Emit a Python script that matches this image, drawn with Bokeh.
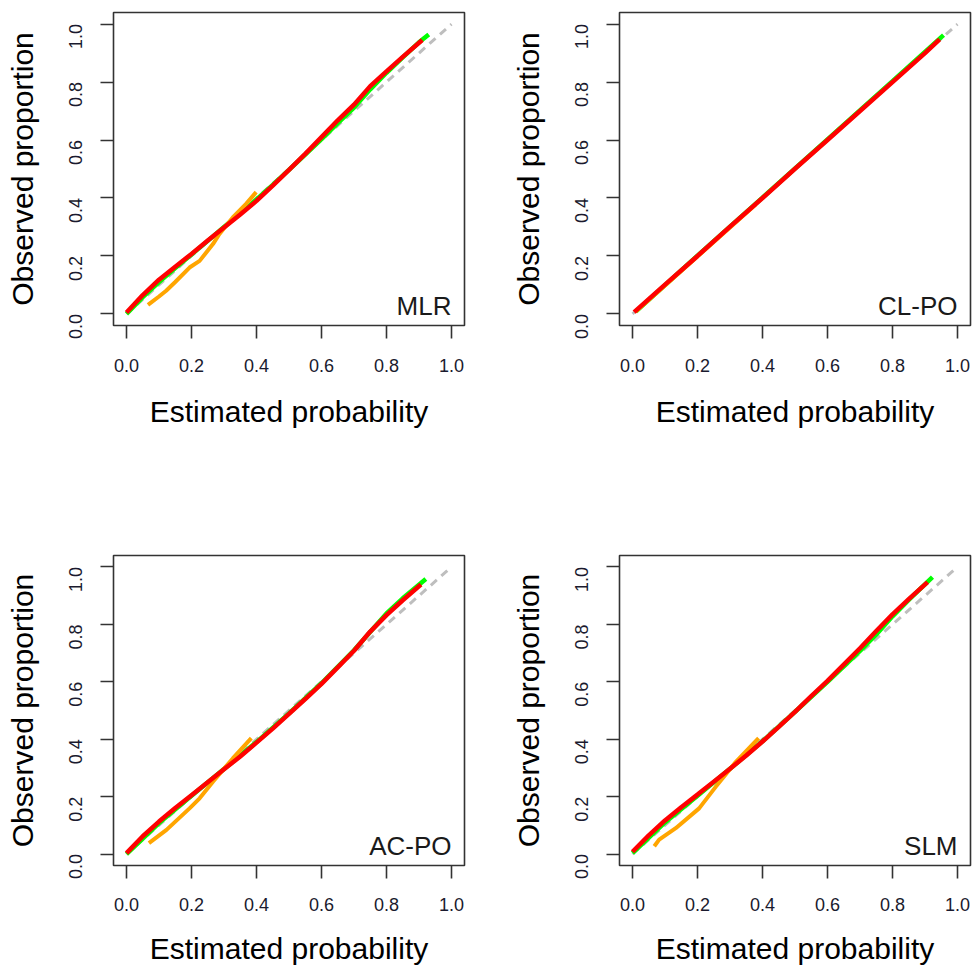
import math
from bokeh.plotting import figure
from bokeh.layouts import gridplot
from bokeh.models import Range1d, FixedTicker, Label, PrintfTickFormatter
from bokeh.embed import file_html
from bokeh.resources import INLINE

# ---------------- data ----------------
panel_names = ["MLR", "CL-PO", "AC-PO", "SLM"]
tick_values = [0.0, 0.2, 0.4, 0.6, 0.8, 1.0]
diag_x = [0.0, 1.0]
diag_y = [0.0, 1.0]
x_title = "Estimated probability"
y_title = "Observed proportion"

# MLR
mlr_green_x = [0.0, 0.05, 0.10, 0.15, 0.20, 0.25, 0.30, 0.35, 0.40, 0.45, 0.50, 0.55, 0.60, 0.65, 0.70, 0.75, 0.80, 0.85, 0.90, 0.93]
mlr_green_y = [0.0, 0.058, 0.110, 0.158, 0.205, 0.252, 0.300, 0.347, 0.395, 0.445, 0.497, 0.550, 0.603, 0.658, 0.712, 0.775, 0.832, 0.885, 0.937, 0.964]
mlr_orange_x = [0.066, 0.10, 0.122, 0.15, 0.194, 0.225, 0.266, 0.286, 0.327, 0.368, 0.399]
mlr_orange_y = [0.031, 0.060, 0.080, 0.110, 0.160, 0.183, 0.241, 0.276, 0.333, 0.380, 0.420]
mlr_red_x = [0.0, 0.05, 0.10, 0.15, 0.20, 0.25, 0.30, 0.35, 0.40, 0.45, 0.50, 0.55, 0.60, 0.65, 0.70, 0.75, 0.80, 0.85, 0.91]
mlr_red_y = [0.005, 0.065, 0.118, 0.163, 0.207, 0.253, 0.298, 0.343, 0.390, 0.443, 0.497, 0.552, 0.610, 0.668, 0.722, 0.786, 0.837, 0.887, 0.945]

# CL-PO
clpo_green_x = [0.01, 0.20, 0.40, 0.60, 0.80, 0.957]
clpo_green_y = [0.008, 0.201, 0.401, 0.602, 0.803, 0.962]
clpo_orange_x = [0.01, 0.10, 0.20, 0.30, 0.38]
clpo_orange_y = [0.008, 0.098, 0.198, 0.298, 0.378]
clpo_red_x = [0.005, 0.10, 0.20, 0.30, 0.40, 0.50, 0.60, 0.70, 0.80, 0.90, 0.945]
clpo_red_y = [0.006, 0.101, 0.200, 0.301, 0.400, 0.501, 0.600, 0.700, 0.800, 0.900, 0.947]

# AC-PO
acpo_green_x = [0.0, 0.10, 0.20, 0.30, 0.40, 0.50, 0.60, 0.70, 0.80, 0.85, 0.921]
acpo_green_y = [0.0, 0.108, 0.203, 0.296, 0.390, 0.490, 0.595, 0.710, 0.838, 0.891, 0.958]
acpo_orange_x = [0.069, 0.123, 0.194, 0.225, 0.266, 0.327, 0.384]
acpo_orange_y = [0.038, 0.084, 0.159, 0.194, 0.252, 0.333, 0.404]
acpo_red_x = [0.0, 0.05, 0.10, 0.15, 0.20, 0.25, 0.30, 0.35, 0.40, 0.45, 0.50, 0.55, 0.60, 0.65, 0.70, 0.75, 0.80, 0.85, 0.906]
acpo_red_y = [0.003, 0.062, 0.113, 0.160, 0.205, 0.250, 0.295, 0.340, 0.388, 0.437, 0.488, 0.540, 0.593, 0.650, 0.708, 0.775, 0.832, 0.884, 0.939]

# SLM
slm_green_x = [0.0, 0.10, 0.20, 0.30, 0.40, 0.50, 0.60, 0.70, 0.75, 0.80, 0.85, 0.923]
slm_green_y = [0.003, 0.110, 0.203, 0.297, 0.393, 0.495, 0.600, 0.708, 0.765, 0.828, 0.885, 0.965]
slm_orange_x = [0.067, 0.082, 0.133, 0.205, 0.256, 0.318, 0.388]
slm_orange_y = [0.027, 0.050, 0.090, 0.159, 0.234, 0.321, 0.404]
slm_red_x = [0.0, 0.05, 0.10, 0.15, 0.20, 0.25, 0.30, 0.35, 0.40, 0.45, 0.50, 0.55, 0.60, 0.65, 0.70, 0.75, 0.80, 0.85, 0.908]
slm_red_y = [0.008, 0.065, 0.117, 0.163, 0.207, 0.252, 0.297, 0.343, 0.392, 0.443, 0.495, 0.550, 0.603, 0.660, 0.717, 0.777, 0.835, 0.888, 0.947]

panel_series = [
    (mlr_green_x, mlr_green_y, mlr_orange_x, mlr_orange_y, mlr_red_x, mlr_red_y),
    (clpo_green_x, clpo_green_y, clpo_orange_x, clpo_orange_y, clpo_red_x, clpo_red_y),
    (acpo_green_x, acpo_green_y, acpo_orange_x, acpo_orange_y, acpo_red_x, acpo_red_y),
    (slm_green_x, slm_green_y, slm_orange_x, slm_orange_y, slm_red_x, slm_red_y),
]

# ---------------- style ----------------
FONT = "Liberation Sans"
DARK = "#333333"
GREEN = "#00FF00"
ORANGE = "#FFA500"
RED = "#FF0000"
GREY = "#BEBEBE"


def make_panel(idx, width, height, bl, br, bt, bb, xs1, xs2):
    gx, gy, ox, oy, rx, ry = panel_series[idx]
    p = figure(width=width, height=height,
               x_range=Range1d(-0.04, 1.04), y_range=Range1d(-0.04, 1.04),
               output_backend="svg", toolbar_location=None,
               min_border_left=bl, min_border_right=br,
               min_border_top=bt, min_border_bottom=bb)
    p.background_fill_color = "white"
    p.border_fill_color = "white"
    p.grid.visible = False
    p.outline_line_color = DARK
    p.outline_line_width = 1.6

    for ax in (p.xaxis[0], p.yaxis[0]):
        ax.ticker = FixedTicker(ticks=tick_values)
        ax.formatter = PrintfTickFormatter(format="%.1f")
        ax.axis_line_color = None
        ax.major_tick_line_color = DARK
        ax.major_tick_line_width = 1.6
        ax.major_tick_in = 0
        ax.major_tick_out = 13
        ax.minor_tick_line_color = None
        ax.major_label_text_font = FONT
        ax.major_label_text_font_size = "18px"
        ax.major_label_text_color = "#1a1a2e"
        ax.axis_label_text_font = FONT
        ax.axis_label_text_font_style = "normal"
        ax.axis_label_text_font_size = "30px"
        ax.axis_label_text_color = "black"

    p.xaxis.axis_label = x_title
    p.xaxis.major_label_standoff = xs1
    p.xaxis.axis_label_standoff = xs2
    p.yaxis.axis_label = y_title
    p.yaxis.major_label_orientation = math.pi / 2
    p.yaxis.major_label_standoff = 25
    p.yaxis.axis_label_standoff = 21

    p.line(diag_x, diag_y, line_color=GREY, line_width=3, line_dash="8 6")
    p.line(gx, gy, line_color=GREEN, line_width=4.5)
    p.line(ox, oy, line_color=ORANGE, line_width=4)
    p.line(rx, ry, line_color=RED, line_width=4.5)

    p.add_layout(Label(x=1.0, y=0.028, text=panel_names[idx], text_align="right",
                       text_baseline="alphabetic", text_font=FONT,
                       text_font_size="26px", text_color="#1a1a1a"))
    return p


p1 = make_panel(0, 487, 547, 113, 23, 12, 222, 20, 20)
p2 = make_panel(1, 487, 547, 132, 4, 12, 222, 20, 20)
p3 = make_panel(2, 487, 420, 113, 23, 8, 100, 19, 18)
p4 = make_panel(3, 487, 420, 132, 4, 8, 100, 19, 18)

grid = gridplot([[p1, p2], [p3, p4]], toolbar_location=None)

with open("out.html", "w") as f:
    f.write(file_html(grid, INLINE))
